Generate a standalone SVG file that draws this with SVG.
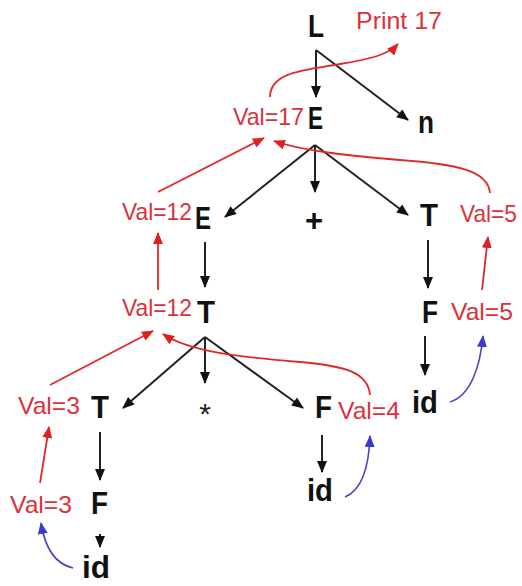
<svg xmlns="http://www.w3.org/2000/svg" width="522" height="586" viewBox="0 0 522 586">
<defs>
<style>
.sym{font-family:"Liberation Sans",Arial,sans-serif;font-weight:bold;font-size:31px;fill:#111}
.val{font-family:"Liberation Sans",Arial,sans-serif;font-size:24px;fill:#d9323c}
.blk{stroke:#222;stroke-width:2;fill:none;marker-end:url(#ab)}
.red{stroke:#e02828;stroke-width:1.8;fill:none;marker-end:url(#ar)}
.blu{stroke:#4444c4;stroke-width:1.6;fill:none;marker-end:url(#au)}
</style>
<marker id="ab" viewBox="0 0 12 10" refX="11" refY="5" markerWidth="13" markerHeight="10" markerUnits="userSpaceOnUse" orient="auto"><path d="M0,0 L12,5 L0,10 Z" fill="#111"/></marker>
<marker id="ar" viewBox="0 0 12 10" refX="11" refY="5" markerWidth="12" markerHeight="10" markerUnits="userSpaceOnUse" orient="auto"><path d="M0,0 L12,5 L0,10 Z" fill="#e02020"/></marker>
<marker id="au" viewBox="0 0 12 10" refX="11" refY="5" markerWidth="12" markerHeight="10" markerUnits="userSpaceOnUse" orient="auto"><path d="M0,0 L12,5 L0,10 Z" fill="#3a3acc"/></marker>
</defs>
<rect width="522" height="586" fill="#fff"/>
<g id="connectors">
<line class="blk" x1="316" y1="50" x2="316" y2="97"/>
<line class="blk" x1="316" y1="50" x2="408" y2="120"/>
<line class="blk" x1="315" y1="145" x2="225" y2="217"/>
<line class="blk" x1="315" y1="145" x2="315" y2="192"/>
<line class="blk" x1="315" y1="145" x2="408" y2="215"/>
<line class="blk" x1="205" y1="242" x2="205" y2="287"/>
<line class="blk" x1="428" y1="240" x2="428" y2="288"/>
<line class="blk" x1="205" y1="337" x2="123" y2="408"/>
<line class="blk" x1="205" y1="337" x2="205" y2="383"/>
<line class="blk" x1="205" y1="337" x2="303" y2="408"/>
<line class="blk" x1="425" y1="336" x2="425" y2="375"/>
<line class="blk" x1="100" y1="432" x2="100" y2="480"/>
<line class="blk" x1="100" y1="534" x2="100" y2="547"/>
<line class="blk" x1="322" y1="435" x2="322" y2="472"/>
<path class="red" d="M270,97 C270,72 305,70 340,64 C370,59 388,55 398,44"/>
<line class="red" x1="158" y1="192" x2="264" y2="138"/>
<path class="red" d="M490,193 C488,170 455,164 400,160 C340,155 300,150 274,141"/>
<line class="red" x1="158" y1="290" x2="158" y2="233"/>
<line class="red" x1="482" y1="290" x2="488" y2="237"/>
<line class="red" x1="50" y1="385" x2="153" y2="331"/>
<path class="red" d="M370,395 C368,372 345,366 300,362 C240,357 190,352 163,334"/>
<line class="red" x1="40" y1="483" x2="49" y2="427"/>
<path class="blu" d="M73,568 C55,564 45,548 41,523"/>
<path class="blu" d="M345,497 C362,490 369,465 370,436"/>
<path class="blu" d="M450,402 C470,396 480,368 483,336"/>
</g>
<g id="L"><text class="sym" x="308" y="37" textLength="16" lengthAdjust="spacingAndGlyphs">L</text></g>
<g id="print"><text class="val" x="356" y="29" textLength="86" lengthAdjust="spacingAndGlyphs">Print 17</text></g>
<g id="E1"><text class="val" x="233" y="125" textLength="71" lengthAdjust="spacingAndGlyphs">Val=17</text><text class="sym" x="308" y="129" textLength="15" lengthAdjust="spacingAndGlyphs">E</text></g>
<g id="n"><text class="sym" x="418" y="133" textLength="16" lengthAdjust="spacingAndGlyphs">n</text></g>
<g id="E2"><text class="val" x="122" y="220" textLength="70" lengthAdjust="spacingAndGlyphs">Val=12</text><text class="sym" x="195" y="229" textLength="16" lengthAdjust="spacingAndGlyphs">E</text></g>
<g id="plus"><text class="sym" x="314" y="231" text-anchor="middle">+</text></g>
<g id="T1"><text class="sym" x="420" y="226" textLength="18" lengthAdjust="spacingAndGlyphs">T</text><text class="val" x="460" y="222" textLength="57" lengthAdjust="spacingAndGlyphs">Val=5</text></g>
<g id="T2"><text class="val" x="122" y="316" textLength="70" lengthAdjust="spacingAndGlyphs">Val=12</text><text class="sym" x="197" y="323" textLength="18" lengthAdjust="spacingAndGlyphs">T</text></g>
<g id="F1"><text class="sym" x="422" y="323" textLength="16" lengthAdjust="spacingAndGlyphs">F</text><text class="val" x="451" y="320" textLength="62" lengthAdjust="spacingAndGlyphs">Val=5</text></g>
<g id="id1"><text class="sym" x="412" y="413" textLength="26" lengthAdjust="spacingAndGlyphs">id</text></g>
<g id="T3"><text class="val" x="18" y="414" textLength="62" lengthAdjust="spacingAndGlyphs">Val=3</text><text class="sym" x="91" y="418" textLength="18" lengthAdjust="spacingAndGlyphs">T</text></g>
<g id="star"><text x="205" y="424" text-anchor="middle" style="font-family:'Liberation Sans',Arial,sans-serif;font-size:30px;fill:#222">*</text></g>
<g id="F2"><text class="sym" x="315" y="418" textLength="17" lengthAdjust="spacingAndGlyphs">F</text><text class="val" x="338" y="419" textLength="62" lengthAdjust="spacingAndGlyphs">Val=4</text></g>
<g id="F3"><text class="val" x="10" y="513" textLength="62" lengthAdjust="spacingAndGlyphs">Val=3</text><text class="sym" x="91" y="514" textLength="17" lengthAdjust="spacingAndGlyphs">F</text></g>
<g id="id2"><text class="sym" x="307" y="501" textLength="26" lengthAdjust="spacingAndGlyphs">id</text></g>
<g id="id3"><text class="sym" x="82" y="578" textLength="28" lengthAdjust="spacingAndGlyphs">id</text></g>
</svg>
